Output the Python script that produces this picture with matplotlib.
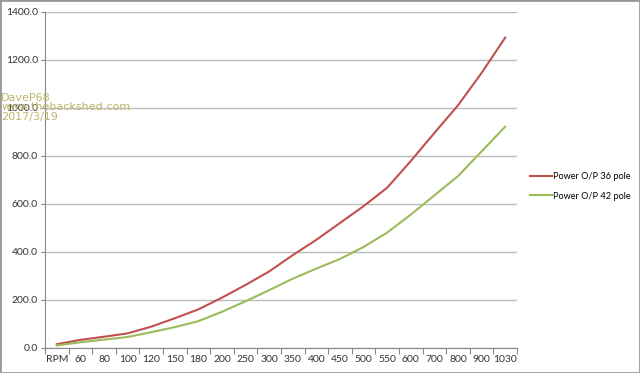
import matplotlib.pyplot as plt
from matplotlib.patches import Rectangle

rpm = ['RPM', '60', '80', '100', '120', '150', '180', '200', '250', '300',
       '350', '400', '450', '500', '550', '600', '700', '800', '900', '1030']
power_36 = [15, 33, 46, 60, 88, 123, 160, 209, 262, 318,
            386, 450, 520, 590, 667, 778, 895, 1010, 1145, 1292]
power_42 = [10, 23, 34, 45, 65, 86, 111, 150, 194, 240,
            288, 330, 370, 420, 480, 555, 635, 715, 818, 921]
yticks = [0, 200, 400, 600, 800, 1000, 1200, 1400]

plt.rcParams['font.family'] = ['Lato', 'DejaVu Sans']

fig = plt.figure(figsize=(6.4, 3.73), dpi=100)
ax = fig.add_axes([0.0703, 0.0676, 0.7375, 0.901])

x = list(range(len(rpm)))
ax.plot(x, power_36, color='#C0504D', lw=1.5, label='Power O/P 36 pole')
ax.plot(x, power_42, color='#9BBB59', lw=1.5, label='Power O/P 42 pole')

ax.set_xlim(-0.5, len(rpm) - 0.5)
ax.set_ylim(0, 1400)
ax.set_yticks(yticks)
ax.set_yticklabels([f'{v:.1f}' for v in yticks], fontsize=7.5, color='#333333')
ax.set_xticks(x)
ax.set_xticklabels(rpm, fontsize=7.5, color='#333333')
ax.set_xticks([i - 0.5 for i in range(len(rpm) + 1)], minor=True)
ax.tick_params(axis='x', which='major', length=0, pad=5)
ax.tick_params(axis='x', which='minor', length=4, color='#888888', width=0.8)
ax.tick_params(axis='y', length=3, color='#888888', width=0.8, pad=2)

ax.grid(axis='y', color='#BBBBBB', lw=1)
ax.set_axisbelow(True)
for s in ['top', 'right']:
    ax.spines[s].set_visible(False)
for s in ['left', 'bottom']:
    ax.spines[s].set_color('#888888')
    ax.spines[s].set_linewidth(0.8)

ax.legend(loc='center left', bbox_to_anchor=(1.01, 0.48), frameon=False,
          fontsize=6.6, handlelength=2.4, handletextpad=0.1, labelspacing=1.1)

fig.text(0.002, 0.752, 'DaveP68\nwww.thebackshed.com\n2017/3/19', fontsize=8,
         color='#BDB76B', va='top', ha='left', linespacing=0.95,
         family=['DejaVu Sans'])

fig.patches.append(Rectangle((0, 0), 1, 1, transform=fig.transFigure,
                             fill=False, edgecolor='#999999', lw=2))

fig.savefig('out.png', dpi=100)
